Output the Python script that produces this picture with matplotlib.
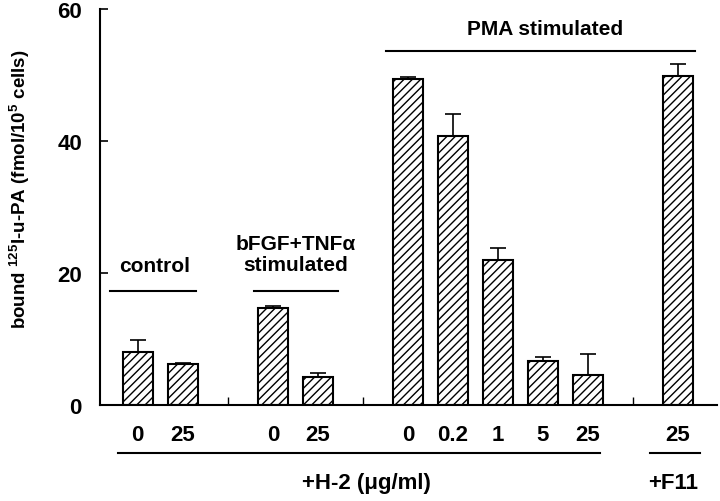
import numpy as np
import matplotlib
matplotlib.use("Agg")
import matplotlib.pyplot as plt

plt.rcParams['font.family'] = ['Liberation Sans', 'DejaVu Sans']
plt.rcParams['font.weight'] = 'bold'
plt.rcParams['hatch.linewidth'] = 1.0

# === data ===
positions = [0, 1, 3, 4, 6, 7, 8, 9, 10, 12]
dose_labels = ["0", "25", "0", "25", "0", "0.2", "1", "5", "25", "25"]
bound_upa = [8.0, 6.2, 14.7, 4.3, 49.4, 40.7, 21.9, 6.7, 4.5, 49.9]
bound_err = [1.8, 0.15, 0.35, 0.55, 0.25, 3.4, 1.9, 0.5, 3.2, 1.7]
separators = [2, 5, 11]

fig = plt.figure(figsize=(7.2, 5.02), dpi=100)
ax = fig.add_axes([100 / 720, 96 / 502, 617 / 720, 396 / 502])

ax.bar(positions, bound_upa, width=0.68, color="white", edgecolor="black",
       linewidth=1.5, hatch="////", zorder=2)
ax.errorbar(positions, bound_upa, yerr=[np.zeros(len(bound_err)), bound_err],
            fmt="none", ecolor="black", elinewidth=1.2, capsize=6,
            capthick=1.2, zorder=1)

ax.set_xlim(-0.84, 12.87)
ax.set_ylim(0, 60)
ax.set_yticks([0, 20, 40, 60])
ax.tick_params(axis='y', direction='in', length=6, width=1.2,
               labelsize=16, pad=13)
ax.set_xticks(positions, dose_labels)
ax.tick_params(axis='x', which='major', length=0, labelsize=16, pad=14)
ax.set_xticks(separators, minor=True)
ax.tick_params(axis='x', which='minor', direction='in', length=6, width=1.0)

for side in ("top", "right"):
    ax.spines[side].set_visible(False)
for side in ("left", "bottom"):
    ax.spines[side].set_linewidth(1.5)

ax.set_ylabel(r"bound $^{\mathregular{125}}$I-u-PA (fmol/10$^{\mathregular{5}}$ cells)",
              fontsize=13.5, fontweight='bold')
ax.yaxis.set_label_coords(-0.11, 0.548)

# --- group annotations ---
kw = dict(color="black", linewidth=1.5, clip_on=False)
ax.plot([-0.61, 1.29], [17.3, 17.3], **kw)
ax.text(0.38, 21.1, "control", ha="center", va="center", fontsize=15)
ax.plot([2.58, 4.45], [17.3, 17.3], **kw)
ax.text(3.51, 22.9, "bFGF+TNFα\nstimulated", ha="center", va="center",
        fontsize=15, linespacing=1.15)
ax.plot([5.51, 12.38], [53.7, 53.7], **kw)
ax.text(9.04, 57.1, "PMA stimulated", ha="center", va="center", fontsize=15)

ax.plot([-0.44, 10.27], [-7.2, -7.2], **kw)
ax.plot([11.38, 12.5], [-7.2, -7.2], **kw)
ax.text(5.09, -11.7, "+H-2 (μg/ml)", ha="center", va="center", fontsize=16)
ax.text(11.89, -11.7, "+F11", ha="center", va="center", fontsize=16)

fig.savefig("out.png", dpi=100)
